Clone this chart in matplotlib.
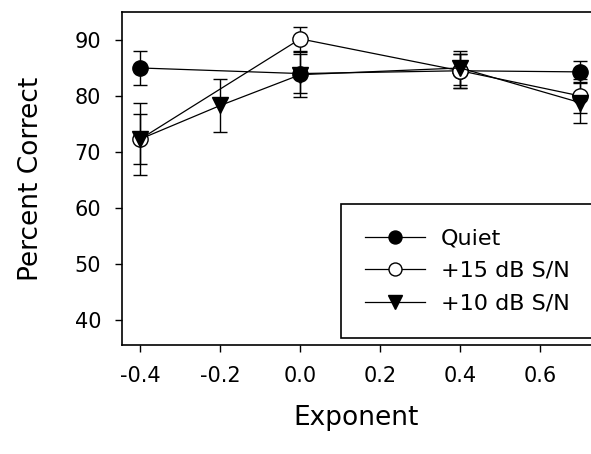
import matplotlib
matplotlib.use('Agg')
import matplotlib.pyplot as plt

# values
quiet_x = [-0.4, 0.0, 0.4, 0.7]
quiet_y = [85.0, 84.0, 84.5, 84.3]
quiet_err = [3.0, 3.5, 3.0, 2.0]

db15_x = [-0.4, 0.0, 0.4, 0.7]
db15_y = [72.3, 90.2, 84.5, 80.0]
db15_err = [4.5, 2.2, 3.0, 3.0]

db10_x = [-0.4, -0.2, 0.0, 0.4, 0.7]
db10_y = [72.3, 78.3, 83.8, 85.0, 78.8]
db10_err = [6.5, 4.8, 4.0, 3.0, 3.7]

yticks = [40, 50, 60, 70, 80, 90]
xticks = [-0.4, -0.2, 0.0, 0.2, 0.4, 0.6]

plt.rcParams['font.family'] = 'DejaVu Sans'

fig = plt.figure(figsize=(5.91, 4.54), dpi=100)
ax = fig.add_axes([122 / 591, 109 / 454, 1 - 122 / 591, 333 / 454])

common = dict(color='black', lw=0.9, elinewidth=1.0, capsize=5, capthick=1.0)
ax.errorbar(quiet_x, quiet_y, yerr=quiet_err, marker='o', ms=11,
            mfc='black', mec='black', label='Quiet', **common)
ax.errorbar(db15_x, db15_y, yerr=db15_err, marker='o', ms=11,
            mfc='white', mec='black', label='+15 dB S/N', **common)
ax.errorbar(db10_x, db10_y, yerr=db10_err, marker='v', ms=12,
            mfc='black', mec='black', label='+10 dB S/N', **common)

ax.set_xlim(-0.4458, 0.7268)
ax.set_ylim(35.5, 95)
ax.set_xticks(xticks)
ax.set_xticklabels(['%.1f' % t for t in xticks])
ax.set_yticks(yticks)
ax.tick_params(direction='out', length=5, width=1, labelsize=15,
               top=False, right=False)
ax.tick_params(axis='x', pad=10)
ax.tick_params(axis='y', pad=10)
ax.spines['right'].set_visible(False)
for s in ['left', 'bottom', 'top']:
    ax.spines[s].set_linewidth(1.2)

ax.set_xlabel('Exponent', fontsize=19, labelpad=14)
ax.set_ylabel('Percent Correct', fontsize=19, labelpad=22)

# legend box runs off the right edge in the reference
handles, labels = ax.get_legend_handles_labels()
leg = fig.legend([h[0] for h in handles], labels, loc='upper left',
                 bbox_to_anchor=(341 / 591, (454 - 204) / 454),
                 borderaxespad=0, fontsize=16, handlelength=2.7,
                 handletextpad=0.7, labelspacing=0.56, borderpad=1.1,
                 markerscale=0.85, fancybox=False, edgecolor='black',
                 framealpha=1)
leg.get_frame().set_linewidth(1.2)

fig.savefig('out.png', dpi=100)
